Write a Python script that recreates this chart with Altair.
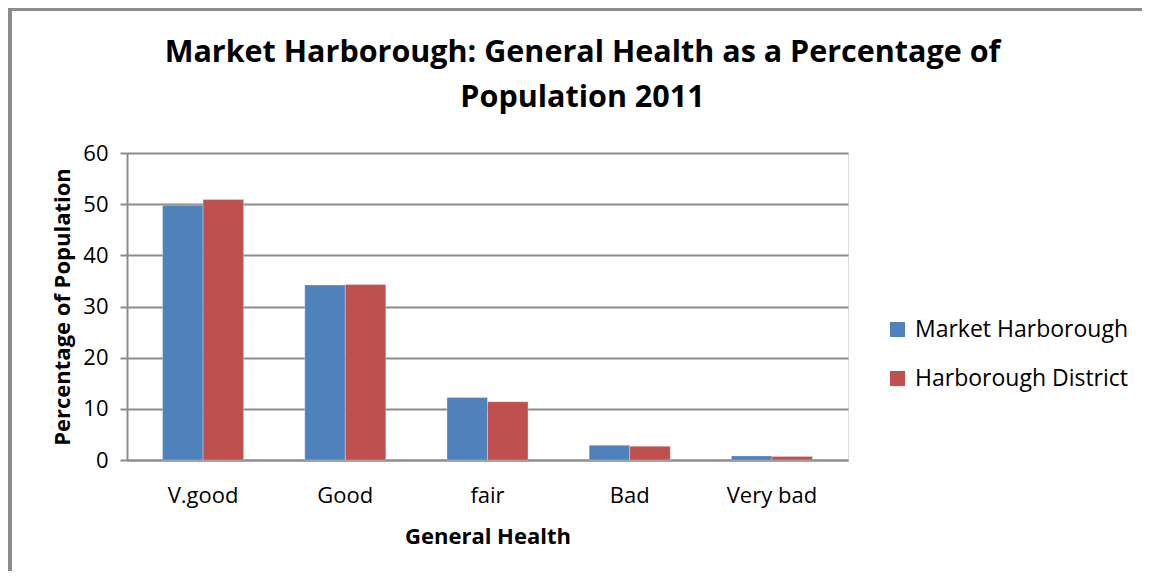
import altair as alt
import pandas as pd

categories = ["V.good", "Good", "fair", "Bad", "Very bad"]
series_names = ["Market Harborough", "Harborough District"]
market_harborough = [49.8, 34.2, 12.2, 2.9, 0.8]
harborough_district = [50.9, 34.3, 11.4, 2.7, 0.7]

rows = []
for i, c in enumerate(categories):
    rows.append({"health": c, "series": series_names[0], "value": market_harborough[i]})
    rows.append({"health": c, "series": series_names[1], "value": harborough_district[i]})
df = pd.DataFrame(rows)

FONT = "Open Sans"

bars = alt.Chart(df).mark_bar(stroke="white", strokeWidth=0.5, strokeOpacity=0.6).encode(
    x=alt.X("health:N", sort=categories,
            scale=alt.Scale(paddingInner=0.43, paddingOuter=0.25),
            axis=alt.Axis(title="General Health", labelAngle=0, ticks=False,
                          labelFontSize=22, labelColor="black", labelPadding=25,
                          titleFontSize=22, titleFontWeight="bold", titleColor="black",
                          titlePadding=20, domainColor="#8c8c8c", domainWidth=2,
                          labelFont=FONT, titleFont=FONT)),
    xOffset=alt.XOffset("series:N", sort=series_names),
    y=alt.Y("value:Q", scale=alt.Scale(domain=[0, 60]),
            axis=alt.Axis(title="Percentage of Population", values=[0, 10, 20, 30, 40, 50, 60],
                          labelFontSize=22, labelColor="black", labelPadding=12,
                          tickSize=7, tickColor="#8c8c8c", tickWidth=2,
                          domainColor="#8c8c8c", domainWidth=2,
                          gridColor="#8c8c8c", gridWidth=2,
                          titleFontSize=22, titleFontWeight="bold", titleColor="black",
                          titlePadding=8, labelFont=FONT, titleFont=FONT)),
    color=alt.Color("series:N", sort=series_names,
                    scale=alt.Scale(domain=series_names, range=["#4f81bd", "#c0504d"]),
                    legend=alt.Legend(title=None, orient="none", legendX=759, legendY=165,
                                      symbolType="square", symbolSize=225,
                                      labelFontSize=23, labelColor="black", labelFont=FONT,
                                      labelLimit=400, labelOffset=6,
                                      rowPadding=25, symbolStrokeWidth=0)),
)

frame_top = alt.Chart(df).mark_rule(color="#8c8c8c", strokeWidth=3).encode(
    x=alt.value(-118), x2=alt.value(1030), y=alt.value(-144))
frame_left = alt.Chart(df).mark_rule(color="#8c8c8c", strokeWidth=3).encode(
    x=alt.value(-117), y=alt.value(-145), y2=alt.value(420))

chart = alt.layer(bars, frame_top, frame_left).properties(
    width=721, height=307,
    autosize=alt.AutoSizeParams(type="none"),
    padding={"left": 119, "top": 145, "right": 294, "bottom": 111},
    title=alt.Title(["Market Harborough: General Health as a Percentage of", "Population 2011"],
                    fontSize=30.5, fontWeight="bold", font=FONT, color="black",
                    anchor="middle", dx=95, offset=-107, lineHeight=45),
).configure_view(stroke=None).configure(background="white")

chart.save("out.html", embed_options={"renderer": "svg", "actions": False})
